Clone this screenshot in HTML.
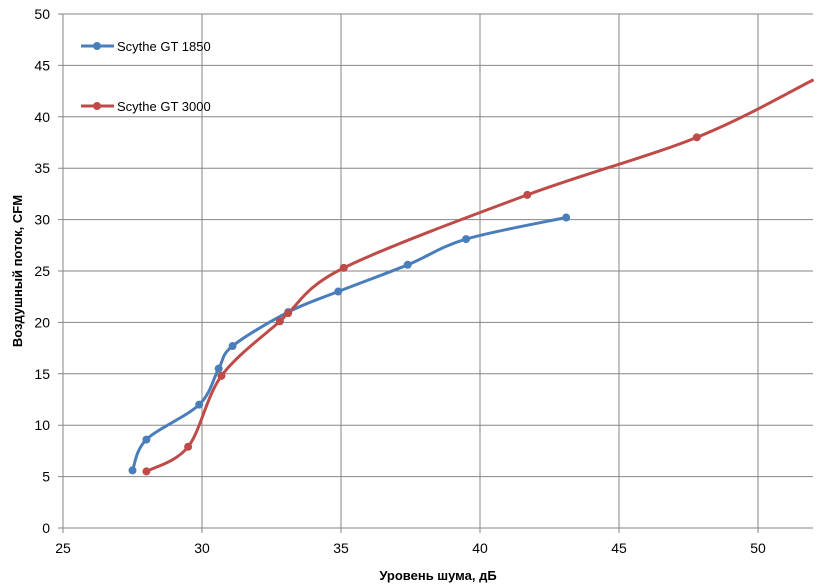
<!DOCTYPE html><html><head><meta charset="utf-8"><style>body{margin:0;background:#fff}svg{display:block}text{font-family:"Liberation Sans",sans-serif;fill:#000}</style></head><body>
<svg width="838" height="585" id="s">
<g stroke="#868686" stroke-width="1" id="grid"></g>
<g font-size="14" id="lab"></g>
<text x="438" y="580" font-size="13" font-weight="bold" text-anchor="middle">Уровень шума, дБ</text>
<text transform="translate(22,271) rotate(-90)" font-size="13" font-weight="bold" text-anchor="middle">Воздушный поток, CFM</text>
<path id="pb" fill="none" stroke="#4a7ebb" stroke-width="3"/>
<path id="pr" fill="none" stroke="#be4b48" stroke-width="3"/>
<g id="mk"></g>
<line x1="81" y1="46" x2="114" y2="46" stroke="#4a7ebb" stroke-width="3"/><circle cx="97" cy="46" r="4" fill="#4a7ebb"/>
<text x="117" y="51" font-size="13">Scythe GT 1850</text>
<line x1="81" y1="106" x2="114" y2="106" stroke="#be4b48" stroke-width="3"/><circle cx="97" cy="106" r="4" fill="#be4b48"/>
<text x="117" y="111" font-size="13">Scythe GT 3000</text>
</svg>
<script>
var X=v=>63+(v-25)*27.8,Y=v=>528-v*10.28,ns="http://www.w3.org/2000/svg";
function el(t,a,p){var e=document.createElementNS(ns,t);for(var k in a)e.setAttribute(k,a[k]);document.getElementById(p).appendChild(e);return e}
for(var i=0;i<=10;i++){var y=Y(i*5);el("line",{x1:58,x2:813,y1:y,y2:y},"grid");var t=el("text",{x:50,y:y+5,"text-anchor":"end"},"lab");t.textContent=i*5}
for(var v=25;v<=50;v+=5){var x=X(v);el("line",{x1:x,x2:x,y1:14,y2:533},"grid");var t=el("text",{x:x,y:553,"text-anchor":"middle"},"lab");t.textContent=v}
el("line",{x1:63,x2:63,y1:14,y2:528,stroke:"#868686"},"grid");
var PY=v=>Y(v)+1;
function path(pts){var p=pts.map(a=>[X(a[0]),PY(a[1])]),d="M"+p[0];for(var i=0;i<p.length-1;i++){var a=p[i-1]||p[i],b=p[i],c=p[i+1],e=p[i+2]||c;d+="C"+(b[0]+(c[0]-a[0])/6)+","+(b[1]+(c[1]-a[1])/6)+" "+(c[0]-(e[0]-b[0])/6)+","+(c[1]-(e[1]-b[1])/6)+" "+c}return d}
var B=[[27.5,5.7],[28,8.7],[29.9,12.1],[30.6,15.6],[31.1,17.8],[33.1,21.1],[34.9,23.1],[37.4,25.7],[39.5,28.2],[43.1,30.3]];
var R=[[28,5.6],[29.5,8],[30.7,14.9],[32.8,20.2],[33.1,21],[35.1,25.4],[41.7,32.5],[47.8,38.1],[52,43.7]];
document.getElementById("pb").setAttribute("d",path(B));
document.getElementById("pr").setAttribute("d",path(R));
B.forEach(a=>el("circle",{cx:X(a[0]),cy:PY(a[1]),r:4,fill:"#4a7ebb"},"mk"));
R.slice(0,8).forEach(a=>el("circle",{cx:X(a[0]),cy:PY(a[1]),r:4,fill:"#be4b48"},"mk"));
</script>
</body></html>
